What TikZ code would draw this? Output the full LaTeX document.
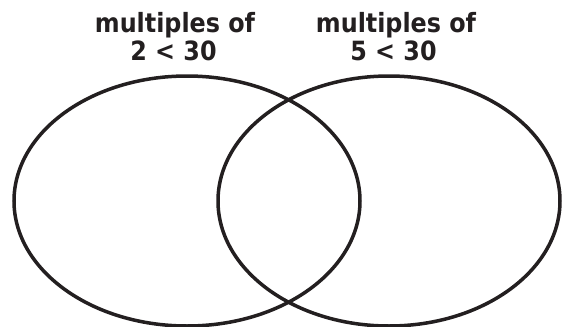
\documentclass[tikz,border=0pt]{standalone}
\usepackage{fontspec}
\newfontfamily\labfont{DejaVu Sans Condensed}[BoldFont={DejaVu Sans Condensed Bold}]
\definecolor{ink}{HTML}{231F20}
\begin{document}
\begin{tikzpicture}[x=1pt,y=-1pt,
  setline/.style={draw=ink,line width=3.5pt},
  setlabel/.style={anchor=base,inner sep=0pt,text=ink,font=\labfont\bfseries\fontsize{26.5}{30}\selectfont}]
\useasboundingbox (0,0) rectangle (563,327);
\coordinate (cA) at (187,201);
\coordinate (cB) at (389,201);
\draw[setline] (cA) ellipse [x radius=173, y radius=125];
\draw[setline] (cB) ellipse [x radius=171, y radius=125];
\node[setlabel] (a1) at (175,32) {multiples of};
\node[setlabel] (a2) at (173.5,60) {2 < 30};
\node[setlabel] (b1) at (396,32) {multiples of};
\node[setlabel] (b2) at (393.5,60) {5 < 30};
\end{tikzpicture}
\end{document}
